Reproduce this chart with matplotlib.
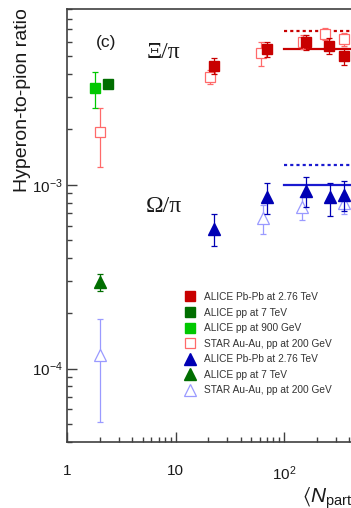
import matplotlib
matplotlib.use("Agg")
import matplotlib.pyplot as plt
from matplotlib.lines import Line2D
from matplotlib.ticker import FixedLocator, FixedFormatter, LogLocator, NullFormatter

# ###########################################################
# Global parameters and data
# ###########################################################

plt.rcParams["font.family"] = ["Liberation Sans", "DejaVu Sans"]
plt.rcParams["mathtext.fontset"] = "custom"
plt.rcParams["mathtext.rm"] = "Liberation Sans"
plt.rcParams["mathtext.it"] = "Liberation Sans:italic"
plt.rcParams["mathtext.bf"] = "Liberation Sans:bold"
plt.rcParams["mathtext.fallback"] = "stixsans"

# Xi/pi
xi_pbpb_npart = [22.5, 69, 158, 262, 357]
xi_pbpb_ratio = [4.44e-3, 5.48e-3, 5.97e-3, 5.70e-3, 5.03e-3]
xi_pbpb_err = [0.45e-3, 0.50e-3, 0.56e-3, 0.57e-3, 0.53e-3]

xi_pp7_npart = [2.4]
xi_pp7_ratio = [3.52e-3]
xi_pp7_err = [0.10e-3]

xi_pp900_npart = [1.81]
xi_pp900_ratio = [3.38e-3]
xi_pp900_err = [0.75e-3]

xi_star_npart = [2.0, 21, 62, 151, 239, 358]
xi_star_ratio = [1.93e-3, 3.88e-3, 5.20e-3, 6.01e-3, 6.62e-3, 6.21e-3]
xi_star_err = [0.68e-3, 0.34e-3, 0.76e-3, 0.50e-3, 0.48e-3, 0.50e-3]

# Omega/pi
om_pbpb_npart = [22.6, 69, 158, 263, 357]
om_pbpb_ratio = [5.77e-4, 8.57e-4, 9.31e-4, 8.53e-4, 8.82e-4]
om_pbpb_err = [1.15e-4, 1.60e-4, 1.70e-4, 1.75e-4, 1.65e-4]

om_pp7_npart = [2.0]
om_pp7_ratio = [2.96e-4]
om_pp7_err = [0.33e-4]

om_star_npart = [2.0, 63.5, 145, 358]
om_star_ratio = [1.18e-4, 6.59e-4, 7.53e-4, 7.95e-4]
om_star_err = [0.67e-4, 1.17e-4, 1.08e-4, 1.00e-4]

# model lines (central collisions)
model_npart = [100, 800]
xi_model_solid = 5.48e-3
xi_model_dotted = 6.90e-3
om_model_solid = 1.00e-3
om_model_dotted = 1.28e-3

legend_labels = [
    "ALICE Pb-Pb at 2.76 TeV",
    "ALICE pp at 7 TeV",
    "ALICE pp at 900 GeV",
    "STAR Au-Au, pp at 200 GeV",
    "ALICE Pb-Pb at 2.76 TeV",
    "ALICE pp at 7 TeV",
    "STAR Au-Au, pp at 200 GeV",
]

# colors
c_red = "#c80000"
c_dkgreen = "#006e00"
c_ltgreen = "#00c800"
c_star_red = "#ff6a6a"
c_blue = "#0000b4"
c_star_blue = "#9a9aff"
c_axis = "#404040"

# ###########################################################
# Figure
# ###########################################################

fig = plt.figure(figsize=(3.51, 5.08), dpi=100)
# the axes run past the right edge of the picture (cropped panel)
ax = fig.add_axes([67 / 351, 66.3 / 508, 315 / 351, 432.7 / 508])
ax.set_xscale("log")
ax.set_yscale("log")
ax.set_xlim(1, 800)
ax.set_ylim(4.0e-5, 9.05e-3)

eb = dict(ls="none", elinewidth=0.9, capsize=2.5, capthick=0.9)

# model lines
ax.plot(model_npart, [xi_model_solid] * 2, color=c_red, lw=1.6, zorder=2)
ax.plot(model_npart, [xi_model_dotted] * 2, color=c_red, lw=1.6,
        ls=(0, (1.4, 1.4)), zorder=2)
ax.plot(model_npart, [om_model_solid] * 2, color="#1a1ad0", lw=1.6, zorder=2)
ax.plot(model_npart, [om_model_dotted] * 2, color="#1a1ad0", lw=1.6,
        ls=(0, (1.4, 1.4)), zorder=2)

# STAR (open markers, behind)
ax.errorbar(xi_star_npart, xi_star_ratio, yerr=xi_star_err, marker="s",
            ms=7.2, mfc="white", mec=c_star_red, mew=0.9, color=c_star_red,
            zorder=3, **eb)
ax.errorbar(om_star_npart, om_star_ratio, yerr=om_star_err, marker="^",
            ms=8, mfc="white", mec=c_star_blue, mew=0.9, color=c_star_blue,
            zorder=3, **eb)

# ALICE (filled markers)
ax.errorbar(xi_pp900_npart, xi_pp900_ratio, yerr=xi_pp900_err, marker="s",
            ms=7.2, color=c_ltgreen, zorder=4, **eb)
ax.errorbar(xi_pp7_npart, xi_pp7_ratio, yerr=xi_pp7_err, marker="s",
            ms=7.2, color=c_dkgreen, zorder=4, **eb)
ax.errorbar(xi_pbpb_npart, xi_pbpb_ratio, yerr=xi_pbpb_err, marker="s",
            ms=7.2, color=c_red, zorder=4, **eb)
ax.errorbar(om_pp7_npart, om_pp7_ratio, yerr=om_pp7_err, marker="^",
            ms=8, color=c_dkgreen, zorder=4, **eb)
ax.errorbar(om_pbpb_npart, om_pbpb_ratio, yerr=om_pbpb_err, marker="^",
            ms=8, color=c_blue, zorder=4, **eb)

# axis format (ROOT-like: inward ticks)
for sp in ax.spines.values():
    sp.set_color(c_axis)
    sp.set_linewidth(1.2)
ax.xaxis.set_major_locator(FixedLocator([1, 10, 100]))
ax.xaxis.set_major_formatter(FixedFormatter(["1", "10", "$10^2$"]))
ax.xaxis.set_minor_locator(LogLocator(base=10, subs=range(2, 10), numticks=20))
ax.xaxis.set_minor_formatter(NullFormatter())
ax.yaxis.set_major_locator(FixedLocator([1e-4, 1e-3]))
ax.yaxis.set_major_formatter(FixedFormatter(["$10^{-4}$", "$10^{-3}$"]))
ax.yaxis.set_minor_locator(LogLocator(base=10, subs=range(2, 10), numticks=20))
ax.yaxis.set_minor_formatter(NullFormatter())
ax.tick_params(which="both", direction="in", color=c_axis, width=1.0,
               labelcolor="#1a1a1a", labelsize=11)
ax.tick_params(which="major", length=7)
ax.tick_params(which="minor", length=3.5)
ax.tick_params(axis="x", which="major", pad=16)
ax.tick_params(axis="y", which="major", pad=3)

# labels and annotations
fig.text(23 / 351, 1 - 8 / 508, "Hyperon-to-pion ratio", rotation=90,
         ha="center", va="top", fontsize=14, color="#1a1a1a")
fig.text(302 / 351, 1 - 503 / 508, r"$\langle N_{\mathrm{part}}\rangle$",
         ha="left", va="baseline", fontsize=15, color="#1a1a1a")
fig.text(106 / 351, 1 - 42 / 508, "(c)", ha="center", va="center",
         fontsize=12.5, color="#1a1a1a")
fig.text(163 / 351, 1 - 52 / 508, "Ξ/π", ha="center", va="center",
         fontsize=17, family=["Liberation Serif", "DejaVu Serif"],
         color="#1a1a1a")
fig.text(164 / 351, 1 - 206 / 508, "Ω/π", ha="center", va="center",
         fontsize=17, family=["Liberation Serif", "DejaVu Serif"],
         color="#1a1a1a")

# legend with marker-only entries
handles = [
    Line2D([], [], ls="none", marker="s", ms=7.2, color=c_red),
    Line2D([], [], ls="none", marker="s", ms=7.2, color=c_dkgreen),
    Line2D([], [], ls="none", marker="s", ms=7.2, color=c_ltgreen),
    Line2D([], [], ls="none", marker="s", ms=7.2, mfc="white",
           mec=c_star_red, mew=0.9),
    Line2D([], [], ls="none", marker="^", ms=8, color=c_blue),
    Line2D([], [], ls="none", marker="^", ms=8, color=c_dkgreen),
    Line2D([], [], ls="none", marker="^", ms=8, mfc="white",
           mec=c_star_blue, mew=0.9),
]
fig.legend(handles, legend_labels, loc="upper left",
           bbox_to_anchor=(185 / 351, 1 - 292 / 508), frameon=False,
           fontsize=7.3, handlelength=1.0, handletextpad=0.9,
           labelspacing=0.55, borderpad=0, borderaxespad=0,
           labelcolor="#333333")

fig.savefig("out.png", dpi=100)
